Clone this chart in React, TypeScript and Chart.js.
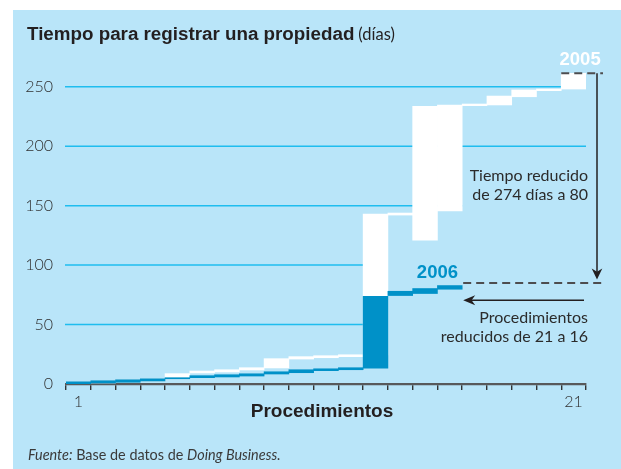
import React, { useEffect, useRef } from "react";
import { Chart, registerables } from "chart.js";

Chart.register(...registerables);

// ---------- data ----------
const procedures = [
  "1", "2", "3", "4", "5", "6", "7", "8", "9", "10", "11",
  "12", "13", "14", "15", "16", "17", "18", "19", "20", "21",
];
const shownProcedureLabels = ["1", "21"];

// 2005: cumulative days, each procedure drawn from its start to its end (white)
const start2005 = [0, 0.8, 1.4, 2.5, 4.4, 9.3, 10.1, 11.8, 13.5, 21.0, 22.1, 23.0, 24.4, 142.1, 121.0, 145.5, 234.1, 234.7, 241.6, 246.7, 248.1];
const end2005 = [1.9, 2.8, 3.6, 4.4, 8.7, 10.9, 12.0, 13.7, 21.3, 23.0, 23.8, 24.6, 143.0, 143.8, 233.5, 234.7, 235.5, 242.2, 247.3, 248.1, 261.3];

// 2006: 16 procedures (blue)
const start2006 = [0, 0.8, 1.4, 2.5, 4.4, 5.3, 5.9, 6.7, 8.4, 9.5, 11.2, 12.0, 13.4, 74.4, 76.1, 79.7];
const end2006 = [1.9, 2.8, 3.6, 4.4, 5.3, 7.0, 7.8, 8.6, 10.3, 12.0, 12.8, 13.7, 73.8, 78.0, 80.3, 82.8];

const yTickValues = [0, 50, 100, 150, 200, 250];
// gridline for each tick stops before this procedure (null = no line)
const gridStopBefore = [null, 13, 13, 17, 22, 22];

const titleBold = "Tiempo para registrar una propiedad";
const titleUnit = "(días)";
const xTitle = "Procedimientos";
const label2005 = "2005";
const label2006 = "2006";
const noteTime = ["Tiempo reducido", "de 274 días a 80"];
const noteProc = ["Procedimientos", "reducidos de 21 a 16"];
const sourceParts = [
  { text: "Fuente:", italic: true },
  { text: " Base de datos de ", italic: false },
  { text: "Doing Business.", italic: true },
];

// ---------- style ----------
const PANEL = "#b9e5f9";
const GRID = "#1fbdef";
const BLUE = "#0091c8";
const INK = "#231f20";
const TICK_INK = "#2f2f2f";
const LIGHT = 'Lato, "Open Sans", sans-serif';
const SANS = '"Liberation Sans", Arial, sans-serif';

function arrowHead(ctx: CanvasRenderingContext2D, tx: number, ty: number, dir: "down" | "left", len: number, half: number) {
  ctx.beginPath();
  if (dir === "down") {
    ctx.moveTo(tx, ty);
    ctx.lineTo(tx - half, ty - len);
    ctx.lineTo(tx, ty - len * 0.7);
    ctx.lineTo(tx + half, ty - len);
  } else {
    ctx.moveTo(tx, ty);
    ctx.lineTo(tx + len, ty - half);
    ctx.lineTo(tx + len * 0.7, ty);
    ctx.lineTo(tx + len, ty + half);
  }
  ctx.closePath();
  ctx.fill();
}

const decoPlugin = {
  id: "deco",
  beforeDraw(chart: any) {
    const ctx = chart.ctx as CanvasRenderingContext2D;
    ctx.save();
    ctx.fillStyle = "#ffffff";
    ctx.fillRect(0, 0, chart.width, chart.height);
    ctx.fillStyle = PANEL;
    ctx.fillRect(13, 10, chart.width - 13, chart.height - 10);
    ctx.restore();
  },
  beforeDatasetsDraw(chart: any) {
    const { ctx, scales } = chart;
    const x = scales.x;
    const y = scales.y;
    const half = (x.getPixelForValue(1) - x.getPixelForValue(0)) / 2;
    ctx.save();
    ctx.strokeStyle = GRID;
    ctx.lineWidth = 1.5;
    yTickValues.forEach((v, i) => {
      const stop = gridStopBefore[i];
      if (stop == null) return;
      const py = y.getPixelForValue(v);
      ctx.beginPath();
      ctx.moveTo(x.left - 1, py);
      ctx.lineTo(x.getPixelForValue(stop - 1) - half, py);
      ctx.stroke();
    });
    ctx.restore();
  },
  afterDraw(chart: any) {
    const { ctx, scales } = chart;
    const x = scales.x;
    const y = scales.y;
    const half = (x.getPixelForValue(1) - x.getPixelForValue(0)) / 2;
    ctx.save();

    // title
    ctx.textBaseline = "alphabetic";
    ctx.fillStyle = INK;
    ctx.textAlign = "left";
    ctx.font = `bold 18.8px ${SANS}`;
    ctx.fillText(titleBold, 27, 40);
    const tw = ctx.measureText(titleBold).width;
    ctx.font = `16.5px ${LIGHT}`;
    ctx.fillText(titleUnit, 27 + tw + 4, 40);

    // x-axis title
    ctx.font = `bold 19px ${SANS}`;
    ctx.textAlign = "center";
    ctx.fillText(xTitle, (x.left + x.right) / 2 - 4, 417);

    // source
    ctx.textAlign = "left";
    ctx.fillStyle = "#3a3a3a";
    let sx = 28;
    sourceParts.forEach((p) => {
      ctx.font = `${p.italic ? "italic " : ""}14.4px ${LIGHT}`;
      ctx.fillText(p.text, sx, 460);
      sx += ctx.measureText(p.text).width;
    });

    // 2005 / 2006 markers
    const y05 = y.getPixelForValue(end2005[end2005.length - 1]);
    const y06 = y.getPixelForValue(end2006[end2006.length - 1]) - 2.5;
    const x05 = x.getPixelForValue(procedures.length - 1) - half;
    const x06 = x.getPixelForValue(end2006.length - 1) + half;
    const arrowX = x.right + 11;

    ctx.strokeStyle = "#4d4d4f";
    ctx.lineWidth = 2;
    ctx.setLineDash([8, 5]);
    ctx.beginPath();
    ctx.moveTo(x05, y05);
    ctx.lineTo(x.right + 17, y05);
    ctx.stroke();
    ctx.beginPath();
    ctx.moveTo(x06 + 1, y06);
    ctx.lineTo(x.right + 19, y06);
    ctx.stroke();
    ctx.setLineDash([]);

    // vertical arrow
    ctx.strokeStyle = INK;
    ctx.fillStyle = INK;
    ctx.lineWidth = 1.5;
    ctx.beginPath();
    ctx.moveTo(arrowX, y05);
    ctx.lineTo(arrowX, y06 - 6);
    ctx.stroke();
    arrowHead(ctx, arrowX, y06 - 3.5, "down", 11, 5.3);

    // horizontal arrow
    const ha = y06 + 17.3;
    ctx.beginPath();
    ctx.moveTo(x.right - 2, ha);
    ctx.lineTo(x06 + 6, ha);
    ctx.stroke();
    arrowHead(ctx, x06 + 1, ha, "left", 12, 5);

    // year labels
    ctx.textAlign = "center";
    ctx.font = `bold 18.5px ${SANS}`;
    ctx.fillStyle = "#ffffff";
    ctx.fillText(label2005, x.getPixelForValue(procedures.length - 1) + 6.5, y05 - 8.5);
    ctx.fillStyle = BLUE;
    ctx.fillText(label2006, x.getPixelForValue(end2006.length - 1.5), y06 - 5.5);

    // notes
    ctx.textAlign = "right";
    ctx.fillStyle = "#2b2b2b";
    ctx.font = `16px ${LIGHT}`;
    ctx.fillText(noteTime[0], x.right + 2, 180.7);
    ctx.fillText(noteTime[1], x.right + 2, 200);
    ctx.fillText(noteProc[0], x.right + 2, 323);
    ctx.fillText(noteProc[1], x.right + 2, 341.5);

    ctx.restore();
  },
};

export default function App() {
  const canvasRef = useRef<HTMLCanvasElement | null>(null);

  useEffect(() => {
    if (!canvasRef.current) return;
    const pairs2005 = start2005.map((s, i) => [s, end2005[i]]);
    const pairs2006 = start2006.map((s, i) => [s, end2006[i]]);

    const chart = new Chart(canvasRef.current, {
      type: "bar",
      data: {
        labels: procedures,
        datasets: [
          {
            label: "2006",
            data: pairs2006 as any,
            backgroundColor: BLUE,
            borderWidth: 0,
            grouped: false,
            order: 0,
            barPercentage: 1,
            categoryPercentage: 1,
          },
          {
            label: "2005",
            data: pairs2005 as any,
            backgroundColor: "#ffffff",
            borderWidth: 0,
            grouped: false,
            order: 1,
            barPercentage: 1,
            categoryPercentage: 1,
          },
        ],
      },
      options: {
        responsive: false,
        animation: false,
        devicePixelRatio: 1,
        layout: { padding: { left: 0, right: 35, top: 63, bottom: 0 } },
        plugins: {
          legend: { display: false },
          tooltip: { enabled: false },
          title: { display: false },
        },
        scales: {
          x: {
            type: "category",
            offset: true,
            z: 1,
            grid: {
              display: true,
              drawOnChartArea: false,
              drawTicks: true,
              tickLength: 6,
              color: "#333333",
              lineWidth: 1.4,
              offset: true,
            },
            border: { display: true, color: "#58595b", width: 2.2 },
            ticks: {
              autoSkip: false,
              maxRotation: 0,
              padding: 2,
              color: TICK_INK,
              font: { family: LIGHT, size: 16, weight: "300" },
              callback: (_v: any, i: number) =>
                shownProcedureLabels.includes(procedures[i]) ? procedures[i] : "",
            },
            afterFit: (scale: any) => {
              scale.height = 85;
            },
          },
          y: {
            min: 0,
            max: 270,
            grid: { display: false, drawTicks: false },
            border: { display: false },
            afterBuildTicks: (scale: any) => {
              scale.ticks = yTickValues.map((v) => ({ value: v }));
            },
            ticks: {
              padding: 13,
              color: TICK_INK,
              font: { family: LIGHT, size: 16, weight: "300" },
              callback: (v: any) => String(v),
            },
            afterFit: (scale: any) => {
              scale.width = 66;
            },
          },
        },
      },
      plugins: [decoPlugin],
    });
    return () => chart.destroy();
  }, []);

  return (
    <div style={{ position: "absolute", left: 0, top: 0, width: 621, height: 469 }}>
      <canvas ref={canvasRef} width={621} height={469} style={{ display: "block" }} />
    </div>
  );
}
